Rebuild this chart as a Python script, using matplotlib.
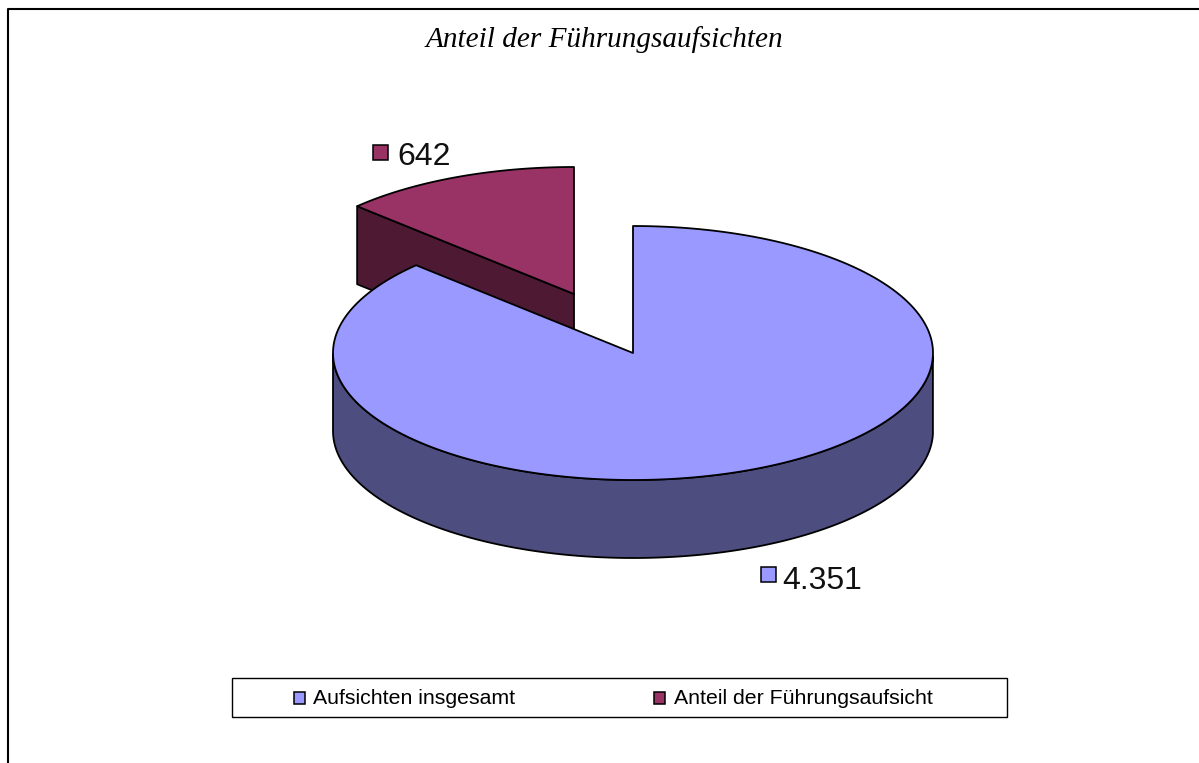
import numpy as np
from matplotlib import pyplot as plt
from matplotlib.patches import Polygon, Rectangle

title = 'Anteil der Führungsaufsichten'
legend_labels = ['Aufsichten insgesamt', 'Anteil der Führungsaufsicht']
values = [4351, 642]
value_labels = ['4.351', '642']

top_colors = ['#9999FF', '#993366']
side_colors = ['#4D4D80', '#4D1933']

fig = plt.figure(figsize=(11.99, 7.63), dpi=100)
ax = fig.add_axes([0, 0, 1, 1])
ax.set_xlim(0, 1199)
ax.set_ylim(763, 0)
ax.axis('off')

# pie layout in pixels
rx, ry, depth = 300, 127, 78
center_big = (633, 353)
center_small = (574, 294)

# the small slice runs counterclockwise from 12 o'clock, the big one takes the rest
small_deg = 360 * values[1] / sum(values)


def rim(center, a0, a1):
    t = np.radians(np.linspace(a0, a1, 200))
    # angle from 12 o'clock, going counterclockwise, y grows downward
    return np.column_stack([center[0] - rx * np.sin(t), center[1] - ry * np.cos(t)])


def add_poly(pts, color, z):
    ax.add_patch(Polygon(pts, closed=True, facecolor=color, edgecolor='black',
                         linewidth=1.3, joinstyle='round', zorder=z))


# small slice: cut face, then top
arc = rim(center_small, 0, small_deg)
cut = np.array([arc[-1], center_small,
                (center_small[0], center_small[1] + depth),
                (arc[-1][0], arc[-1][1] + depth)])
add_poly(cut, side_colors[1], 1)
add_poly(np.vstack([[center_small], arc]), top_colors[1], 2)

# big slice: front wall, then top
arc = rim(center_big, small_deg, 360)
front = arc[(arc[:, 1] >= center_big[1])]
wall = np.vstack([front, (front + [0, depth])[::-1]])
add_poly(wall, side_colors[0], 3)
add_poly(np.vstack([[center_big], arc]), top_colors[0], 4)

sans = 'Liberation Sans'
ax.text(604, 40, title, family='Liberation Serif', style='italic', fontsize=21.1,
        ha='center', va='center')


def swatch(x, y, w, color):
    ax.add_patch(Rectangle((x, y), w, w, facecolor=color, edgecolor='black',
                           linewidth=1.1, zorder=5))


# value labels
swatch(373, 145, 15, top_colors[1])
ax.text(397, 157, value_labels[1], family=sans, fontsize=23, ha='left', va='center', color='#111111')
swatch(761, 567, 15, top_colors[0])
ax.text(782, 581, value_labels[0], family=sans, fontsize=23, ha='left', va='center', color='#111111')

# legend
ax.add_patch(Rectangle((232, 678), 775, 39, facecolor='white', edgecolor='black',
                       linewidth=1.0, zorder=5))
ax.text(313, 698, legend_labels[0], family=sans, fontsize=15.3, ha='left', va='center', zorder=6)
ax.text(674, 698, legend_labels[1], family=sans, fontsize=15.3, ha='left', va='center', zorder=6)
for x, c in zip([294, 654], top_colors):
    ax.add_patch(Rectangle((x, 692), 11, 12, facecolor=c, edgecolor='black', linewidth=1.1, zorder=6))

# chart frame, cut off on the right and at the bottom
ax.plot([8, 8, 1199], [763, 9, 9], color='black', linewidth=1.5, zorder=7)

fig.savefig('out.png', dpi=100)
